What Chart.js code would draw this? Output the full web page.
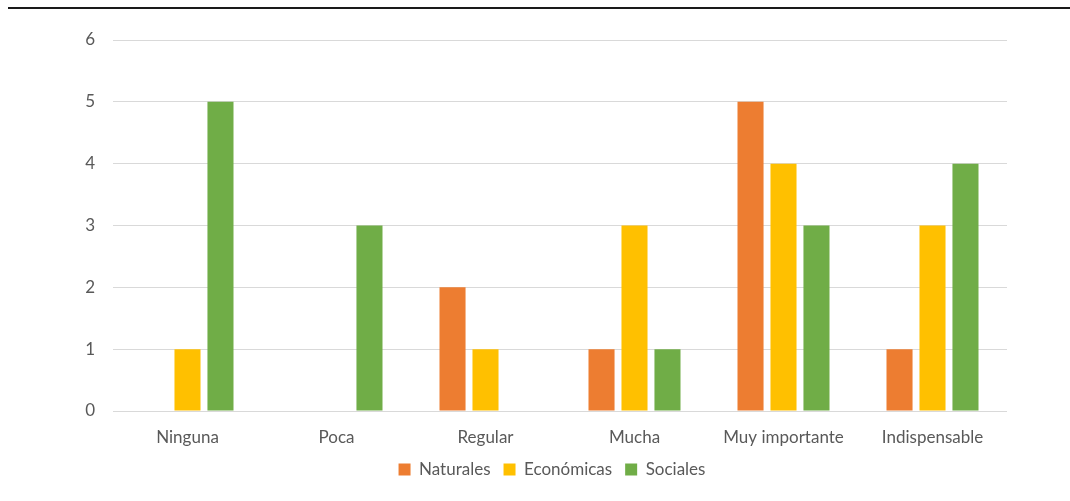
<!DOCTYPE html>
<html>
<head>
<meta charset="utf-8">
<script src="https://cdn.jsdelivr.net/npm/chart.js@4.4.0/dist/chart.umd.min.js"></script>
<style>
  html, body { margin: 0; padding: 0; background: #fff; }
  #wrap { position: relative; width: 1070px; height: 501px; }
  #topline { position: absolute; left: 8px; right: 0; top: 7px; height: 2px; background: #1a1a1a; }
</style>
</head>
<body>
<div id="wrap">
  <div id="topline"></div>
  <canvas id="chart"></canvas>
</div>
<script>
// Categories and series
const categories = ['Ninguna', 'Poca', 'Regular', 'Mucha', 'Muy importante', 'Indispensable'];
const naturales = [0, 0, 2, 1, 5, 1];
const economicas = [1, 0, 1, 3, 4, 3];
const sociales = [5, 3, 0, 1, 3, 4];
const yTicks = [0, 1, 2, 3, 4, 5, 6];

const orange = '#ED7D31';
const yellow = '#FFC000';
const green = '#70AD47';
const textColor = '#595959';
const gridColor = '#d9d9d9';

const fontFamily = 'Lato, "Open Sans", sans-serif';

function makeSet(label, data, color) {
    return {
        label: label,
        data: data,
        backgroundColor: color,
        borderWidth: 0,
        barPercentage: 0.79,
        categoryPercentage: 0.664
    };
}

// centre the legend under the plot area instead of the whole canvas
const legendShift = {
    id: 'legendShift',
    afterLayout: function(chart) {
        if (chart.legend) {
            chart.legend.left += 97;
        }
    }
};

const ctx = document.getElementById('chart').getContext('2d');
new Chart(ctx, {
    type: 'bar',
    data: {
        labels: categories,
        datasets: [
            makeSet('Naturales', naturales, orange),
            makeSet('Económicas', economicas, yellow),
            makeSet('Sociales', sociales, green)
        ]
    },
    options: {
        responsive: true,
        maintainAspectRatio: false,
        animation: false,
        layout: {
            padding: { left: 0, right: 63, top: 40, bottom: 13 }
        },
        scales: {
            x: {
                grid: { display: false },
                border: { display: false },
                afterFit: function(scale) {
                    scale.height = 37;
                },
                ticks: {
                    color: textColor,
                    font: { family: fontFamily, size: 17 },
                    padding: 8
                }
            },
            y: {
                min: 0,
                max: 6,
                afterBuildTicks: function(scale) {
                    scale.ticks = yTicks.map(function(v) { return { value: v }; });
                },
                afterFit: function(scale) {
                    scale.width = 113;
                },
                grid: {
                    color: gridColor,
                    lineWidth: 1,
                    drawTicks: false
                },
                border: { display: false },
                ticks: {
                    color: textColor,
                    font: { family: fontFamily, size: 17 },
                    padding: 18
                }
            }
        },
        plugins: {
            legend: {
                position: 'bottom',
                labels: {
                    color: textColor,
                    font: { family: fontFamily, size: 17 },
                    boxWidth: 12,
                    boxHeight: 12,
                    padding: 13
                }
            },
            tooltip: { enabled: false }
        }
    },
    plugins: [legendShift]
});
</script>
</body>
</html>
